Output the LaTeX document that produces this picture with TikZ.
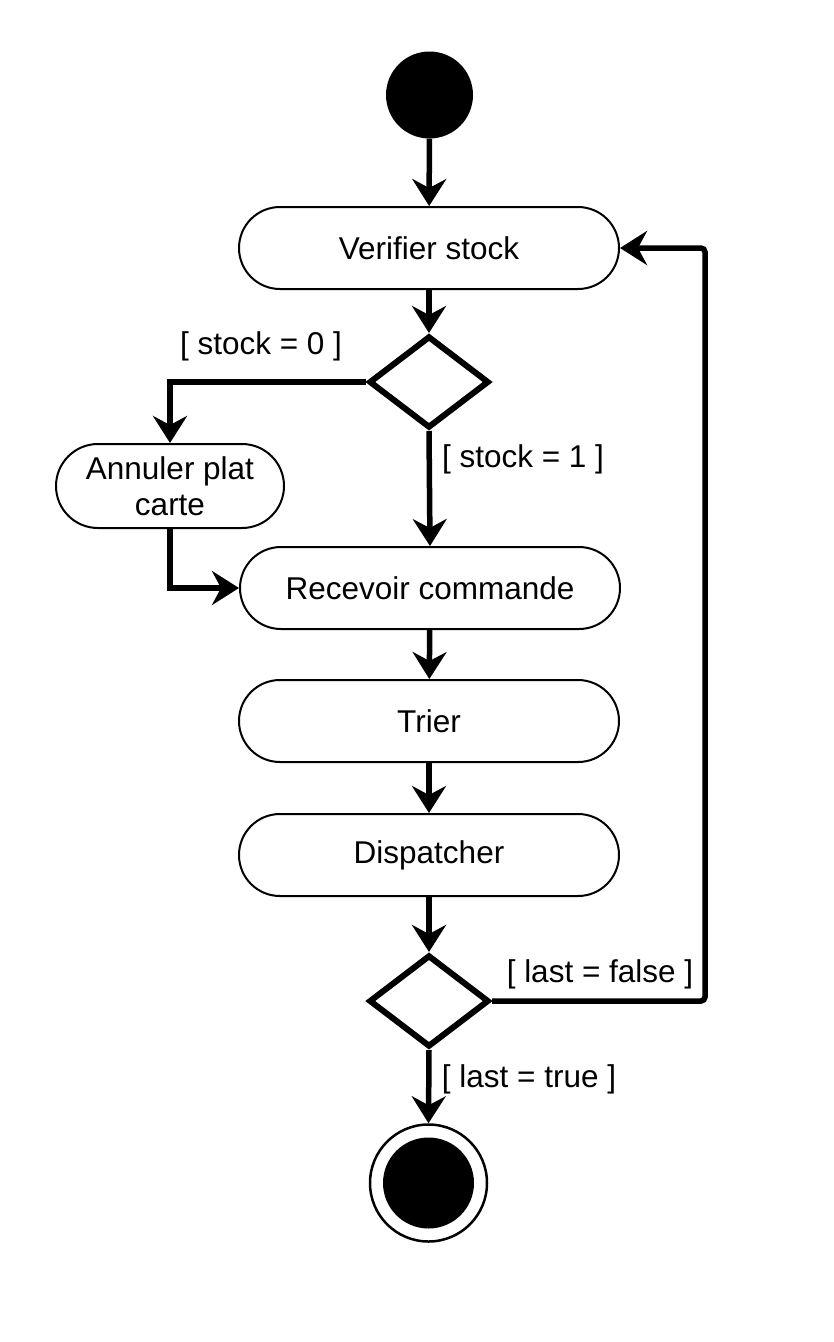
\documentclass[tikz,border=0pt]{standalone}
\usepackage{fontspec}
\setmainfont{Liberation Sans}
\usetikzlibrary{arrows.meta,shapes.geometric}

\tikzset{
    txt/.style={font=\fontsize{31.5pt}{36pt}\selectfont, inner sep=0pt},
    activity/.style={txt, draw, line width=2pt, rectangle, rounded corners=41pt,
        minimum width=380pt, minimum height=82pt, align=center},
    decision/.style={draw, diamond, line width=6pt, minimum width=120pt,
        minimum height=92pt, inner sep=0pt},
    initstate/.style={circle, fill=black, minimum size=87pt, inner sep=0pt},
    endstate/.style={circle, draw, line width=2.5pt, minimum size=117pt, inner sep=0pt},
    flow/.style={line width=5.5pt, -{Stealth[length=27pt, width=34pt, inset=9pt]}},
    guard/.style={txt, anchor=base}
}

\begin{document}
\begin{tikzpicture}[x=1pt, y=-1pt]
    \useasboundingbox (0,0) rectangle (834,1342);

    % ================= NODES =================
    % 1. Start / end states
    \node[initstate] (start) at (429.5,95) {};
    \node[endstate] (end) at (428.5,1183) {};
    \fill (end.center) circle (45.5pt);

    % 2. Activities (main column)
    \node[activity] (verif) at (429,248) {Verifier stock};
    \node[activity] (recv)  at (430,588) {Recevoir commande};
    \node[activity] (trier) at (429,721) {Trier};
    \node[activity] (disp)  at (429,855) {Dispatcher};

    % Side activity (stock empty)
    \node[activity, minimum width=228pt, minimum height=84pt, rounded corners=42pt]
        (annul) at (170,486) {Annuler plat\\carte};

    % 3. Decisions
    \node[decision] (d1) at (429,382) {};
    \node[decision] (d2) at (429,1001) {};

    % Corner of the loop back to the top
    \coordinate (loop) at (705,1001);

    % ================= CONNECTORS =================
    \draw[flow] (start) -- (verif);
    \draw[flow] (verif) -- (d1.north);
    \draw[flow] (d1.west) -| (annul.north);
    \draw[flow] (annul.south) |- (recv.west);
    \draw[flow] (d1.south) -- (recv.north);
    \draw[flow] (recv) -- (trier);
    \draw[flow] (trier) -- (disp);
    \draw[flow] (disp) -- (d2.north);
    \draw[flow] (d2.south) -- (end.north);
    \draw[flow, rounded corners=4pt] (d2.east) -- (loop) |- (verif.east);

    % Guards
    \node[guard] (g0) at (261,354) {[ stock = 0 ]};
    \node[guard] (g1) at (523,467) {[ stock = 1 ]};
    \node[guard] (gf) at (600,982) {[ last = false ]};
    \node[guard] (gt) at (529,1087) {[ last = true ]};

\end{tikzpicture}
\end{document}
